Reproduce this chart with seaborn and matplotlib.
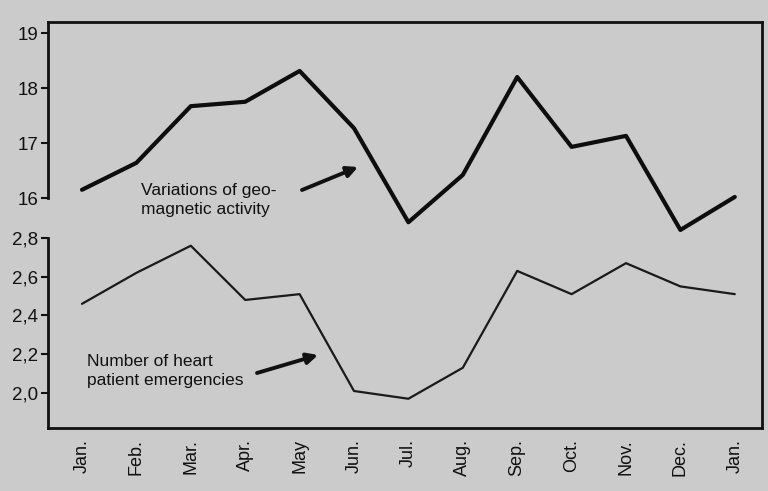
import numpy as np
import pandas as pd
import matplotlib
matplotlib.use("Agg")
import matplotlib.pyplot as plt
import seaborn as sns

months = ["Jan.", "Feb.", "Mar.", "Apr.", "May", "Jun.", "Jul.", "Aug.",
          "Sep.", "Oct.", "Nov.", "Dec.", "Jan."]
geomagnetic = [16.15, 16.64, 17.67, 17.75, 18.31, 17.27, 15.56, 16.42,
               18.20, 16.93, 17.13, 15.42, 16.02]
emergencies = [2.46, 2.62, 2.76, 2.48, 2.51, 2.01, 1.97, 2.13,
               2.63, 2.51, 2.67, 2.55, 2.51]
upper_ticks = [16, 17, 18, 19]
lower_ticks = [2.0, 2.2, 2.4, 2.6, 2.8]
lower_labels = ["2,0", "2,2", "2,4", "2,6", "2,8"]

sns.set_theme(style="white")
plt.rcParams["font.family"] = ["Liberation Sans", "DejaVu Sans"]

bg = "#cbcbcb"
ink = "#111111"
W, H = 768, 491
fig = plt.figure(figsize=(W / 100, H / 100), dpi=100, facecolor=bg)
ax = fig.add_axes([48 / W, (H - 428) / H, (762 - 48) / W, (428 - 22) / H])
ax.set_facecolor(bg)

df = pd.DataFrame({"idx": np.arange(len(months)), "month": months,
                   "geo": geomagnetic, "heart": emergencies})

# lower series (heart emergencies)
sns.lineplot(data=df, x="idx", y="heart", ax=ax, color="#1a1a1a", lw=1.6)
ax.set_ylim(1.819, 3.915)
ax.set_xlim(-0.625, 12.5)
ax.set_yticks(lower_ticks)
ax.set_yticklabels(lower_labels)
ax.set_xticks(df["idx"])
ax.set_xticklabels(months, rotation=90)
ax.set_xlabel("")
ax.set_ylabel("")

# upper series (geomagnetic activity)
ax2 = ax.twinx()
sns.lineplot(data=df, x="idx", y="geo", ax=ax2, color="#0d0d0d", lw=3.0)
ax2.set_ylim(11.82, 19.2)
ax2.set_yticks(upper_ticks)
ax2.yaxis.tick_left()
ax2.set_ylabel("")
ax2.set_xlim(-0.625, 12.5)

for a in (ax, ax2):
    for s in a.spines.values():
        s.set_linewidth(2.0)
        s.set_color(ink)
    a.tick_params(axis="y", which="both", direction="out", length=5, width=1.5,
                  colors=ink, labelsize=13.5, pad=2, left=True, right=False)

ax.tick_params(axis="x", length=0, labelsize=13, pad=8, colors=ink)
ax.spines["left"].set_bounds(1.819, 2.8)
for side in ("top", "right", "bottom"):
    ax2.spines[side].set_visible(False)
ax2.spines["left"].set_bounds(16, 19.2)
ax2.spines["left"].set_visible(True)

# annotations
fig.text(141 / W, 1 - 200 / H, "Variations of geo-\nmagnetic activity",
         fontsize=12.5, color=ink, va="center", ha="left", linespacing=1.35)
fig.text(87 / W, 1 - 371 / H, "Number of heart\npatient emergencies",
         fontsize=12.5, color=ink, va="center", ha="left", linespacing=1.35)
arrow = dict(arrowstyle="-|>", color=ink, lw=2.8, shrinkA=0, shrinkB=0,
             mutation_scale=16)
ax.annotate("", xy=(358, H - 167), xycoords="figure pixels",
            xytext=(302, H - 190), textcoords="figure pixels", arrowprops=arrow)
ax.annotate("", xy=(318, H - 355), xycoords="figure pixels",
            xytext=(257, H - 373), textcoords="figure pixels", arrowprops=arrow)

fig.savefig("out.png", dpi=100, facecolor=bg)
